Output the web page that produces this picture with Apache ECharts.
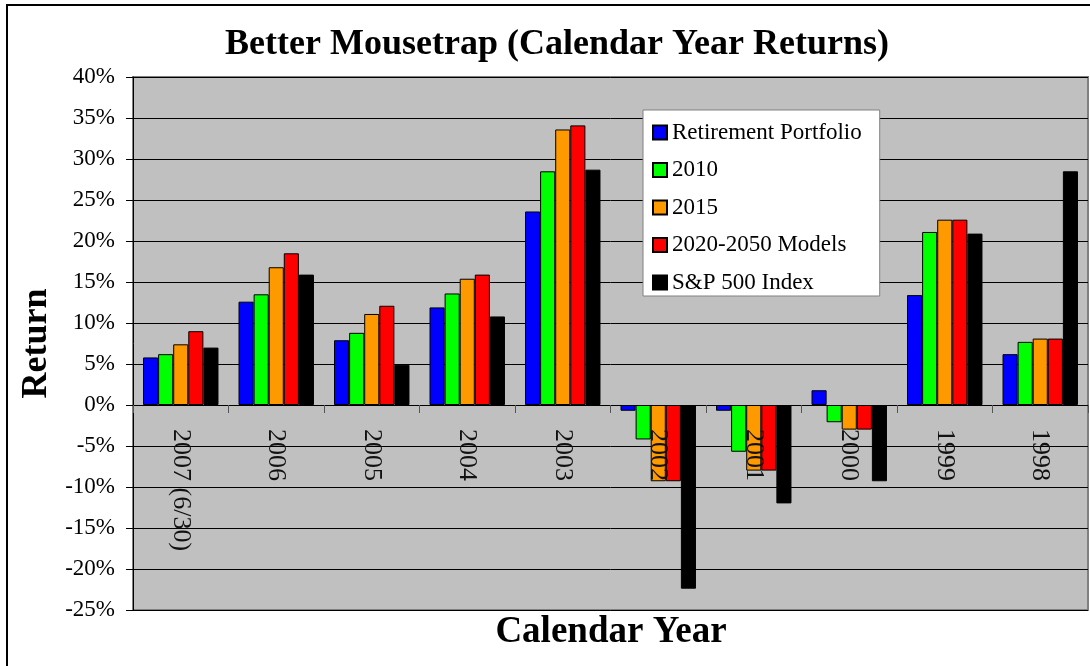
<!DOCTYPE html>
<html>
<head>
<meta charset="utf-8">
<title>Better Mousetrap</title>
<script src="https://cdn.jsdelivr.net/npm/echarts@6/dist/echarts.min.js"></script>
<style>
    html, body { margin: 0; padding: 0; background: #fff; }
    #chart { width: 1090px; height: 666px; }
</style>
</head>
<body>
<div id="chart"></div>
<script>
const SERIF = "'Liberation Serif', 'DejaVu Serif', serif";

const years = ["2007 (6/30)", "2006", "2005", "2004", "2003", "2002", "2001", "2000", "1999", "1998"];
const retirementPortfolio = [5.8, 12.6, 7.9, 11.9, 23.6, -0.7, -0.7, 1.8, 13.4, 6.2];
const fund2010 = [6.2, 13.5, 8.8, 13.6, 28.5, -4.2, -5.7, -2.1, 21.1, 7.7];
const fund2015 = [7.4, 16.8, 11.1, 15.4, 33.6, -9.3, -8.0, -3.0, 22.6, 8.1];
const models2020to2050 = [9.0, 18.5, 12.1, 15.9, 34.1, -9.3, -8.0, -3.0, 22.6, 8.1];
const sp500Index = [7.0, 15.9, 4.9, 10.8, 28.7, -22.4, -12.0, -9.3, 20.9, 28.5];

const seriesList = [
    { name: "Retirement Portfolio", data: retirementPortfolio, color: "#0000ff" },
    { name: "2010", data: fund2010, color: "#00ff00" },
    { name: "2015", data: fund2015, color: "#ff9900" },
    { name: "2020-2050 Models", data: models2020to2050, color: "#ff0000" },
    { name: "S&P 500 Index", data: sp500Index, color: "#000000" }
];

// plot box: 40% at top, -25% at bottom; the year axis sits on the 0% line
const GRID_TOP = 77;
const GRID_HEIGHT = 533;
const Y_MIN = -25;
const Y_MAX = 40;
const zeroOffset = -GRID_HEIGHT * (0 - Y_MIN) / (Y_MAX - Y_MIN);

const chart = echarts.init(document.getElementById("chart"));

chart.setOption({
    animation: false,
    backgroundColor: "#ffffff",
    title: {
        text: "Better Mousetrap (Calendar Year Returns)",
        left: 552,
        top: 22,
        textAlign: "center",
        textStyle: { fontFamily: SERIF, fontSize: 36, fontWeight: "bold", color: "#000" }
    },
    graphic: [
        {
            type: "rect",
            z: -1,
            shape: { x: 7, y: 5, width: 1200, height: 800 },
            style: { fill: "none", stroke: "#000", lineWidth: 2 }
        },
        {
            type: "text",
            x: 611,
            y: 614,
            style: {
                text: "Calendar Year",
                fontFamily: SERIF,
                fontSize: 37,
                fontWeight: "bold",
                fill: "#000",
                textAlign: "center"
            }
        }
    ],
    legend: {
        orient: "vertical",
        left: 643,
        top: 110,
        padding: [11, 18, 2, 9],
        itemGap: 14.5,
        itemWidth: 14,
        itemHeight: 14,
        icon: "rect",
        backgroundColor: "#ffffff",
        borderColor: "#808080",
        borderWidth: 1,
        textStyle: { fontFamily: SERIF, fontSize: 23, lineHeight: 20, color: "#000" },
        data: seriesList.map((s) => s.name)
    },
    grid: {
        left: 133,
        top: GRID_TOP,
        width: 955,
        height: GRID_HEIGHT,
        outerBoundsMode: "none",
        containLabel: false,
        show: true,
        backgroundColor: "#c0c0c0",
        borderColor: "#808080",
        borderWidth: 2
    },
    xAxis: {
        type: "category",
        data: years,
        z: 5,
        offset: zeroOffset,
        axisLine: { onZero: false, lineStyle: { color: "#000", width: 1 } },
        axisTick: { show: true, length: 8, lineStyle: { color: "#555" } },
        axisLabel: {
            rotate: -90,
            margin: 24,
            fontFamily: SERIF,
            fontSize: 26,
            color: "#111",
            interval: 0
        }
    },
    yAxis: {
        type: "value",
        min: Y_MIN,
        max: Y_MAX,
        interval: 5,
        name: "Return",
        nameLocation: "middle",
        nameRotate: 90,
        nameGap: 68,
        nameTextStyle: { fontFamily: SERIF, fontSize: 36, fontWeight: "bold", color: "#000" },
        axisLine: { show: true, lineStyle: { color: "#000", width: 1 } },
        axisTick: { show: true, inside: false, length: 7, lineStyle: { color: "#000" } },
        axisLabel: {
            formatter: "{value}%",
            margin: 18,
            fontFamily: SERIF,
            fontSize: 23,
            color: "#000"
        },
        splitLine: { show: true, lineStyle: { color: "#000", width: 1 } }
    },
    series: seriesList.map((s) => ({
        name: s.name,
        type: "bar",
        data: s.data,
        barGap: "0%",
        barCategoryGap: "21%",
        itemStyle: { color: s.color, borderColor: "#000", borderWidth: 1 }
    }))
});
</script>
</body>
</html>
